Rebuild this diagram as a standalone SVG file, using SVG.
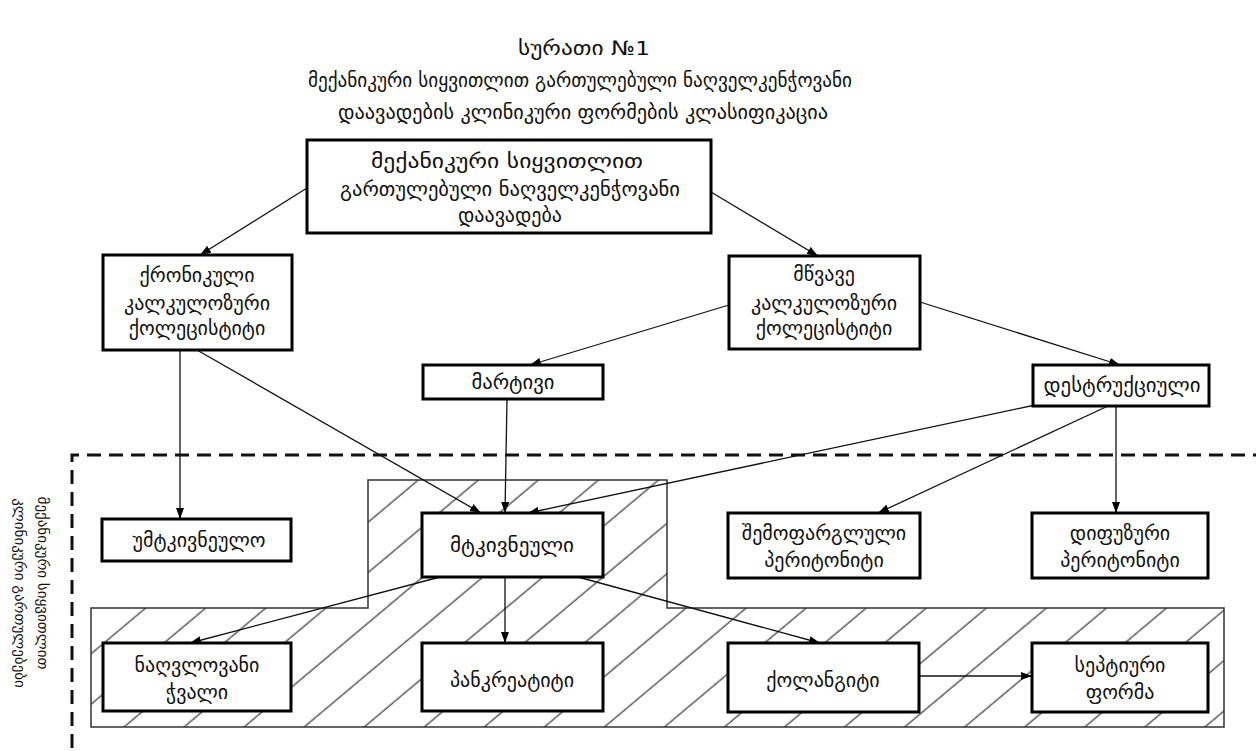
<svg xmlns="http://www.w3.org/2000/svg" width="1256" height="751" viewBox="0 0 1256 751">
  <style>
    .t { font-family: 'DejaVu Sans', 'Noto Sans', sans-serif; font-size: 20px; fill: #111; text-anchor: middle; }
    .title { font-size: 20px; }
    .side { font-size: 15px; }
    .box { fill: #fff; stroke: #000; stroke-width: 3; }
    .conn { fill: none; stroke: #111; stroke-width: 1.3; }
    .zone { fill: url(#hatch); stroke: #333; stroke-width: 1.5; }
    .dash { fill: none; stroke: #111; stroke-width: 3; stroke-dasharray: 14 8; }
  </style>
  <defs>
    <marker id="arr" markerUnits="userSpaceOnUse" markerWidth="11" markerHeight="8" refX="11" refY="4" orient="auto">
      <path d="M0,0 L11,4 L0,8 z" fill="#000"/>
    </marker>
    <pattern id="hatch" patternUnits="userSpaceOnUse" width="12" height="38.6" patternTransform="rotate(-40)">
      <line x1="-1" y1="19" x2="13" y2="19" stroke="#333" stroke-width="1.2"/>
    </pattern>
  </defs>

  <rect width="1256" height="751" fill="#fff"/>

  <!-- heading -->
  <g id="heading">
    <text class="t title" x="584" y="55" textLength="132" lengthAdjust="spacingAndGlyphs">სურათი №1</text>
    <text class="t title" x="580" y="87" textLength="544" lengthAdjust="spacingAndGlyphs">მექანიკური სიყვითლით გართულებული ნაღველკენჭოვანი</text>
    <text class="t title" x="583" y="119" textLength="490" lengthAdjust="spacingAndGlyphs">დაავადების კლინიკური ფორმების კლასიფიკაცია</text>
  </g>

  <!-- complication zone: dashed frame and hatched area -->
  <g id="zone">
    <path class="dash" d="M72,748 V455 H1256"/>
    <path class="zone" d="M91,608 H368 V480 H667 V608 H1224 V727 H91 Z"/>
    <text class="t side" transform="translate(38,583) rotate(90)">მექანიკური სიყვითლით</text>
    <text class="t side" transform="translate(15,593) rotate(90)">კლინიკური გართულებები</text>
  </g>

  <!-- connectors -->
  <g id="connectors">
    <line class="conn" x1="307" y1="188" x2="200" y2="255" marker-end="url(#arr)"/>
    <line class="conn" x1="711" y1="192" x2="818" y2="256" marker-end="url(#arr)"/>
    <line class="conn" x1="180" y1="350" x2="180" y2="519" marker-end="url(#arr)"/>
    <line class="conn" x1="197" y1="350" x2="481" y2="513" marker-end="url(#arr)"/>
    <line class="conn" x1="729" y1="305" x2="530" y2="365" marker-end="url(#arr)"/>
    <line class="conn" x1="920" y1="302" x2="1120" y2="365" marker-end="url(#arr)"/>
    <line class="conn" x1="507" y1="399" x2="505" y2="513" marker-end="url(#arr)"/>
    <line class="conn" x1="1035" y1="405" x2="528" y2="513" marker-end="url(#arr)"/>
    <line class="conn" x1="1108" y1="406" x2="878" y2="513" marker-end="url(#arr)"/>
    <line class="conn" x1="1116" y1="406" x2="1116" y2="513" marker-end="url(#arr)"/>
    <line class="conn" x1="440" y1="577" x2="190" y2="643" marker-end="url(#arr)"/>
    <line class="conn" x1="505" y1="577" x2="505" y2="643" marker-end="url(#arr)"/>
    <line class="conn" x1="578" y1="577" x2="820" y2="643" marker-end="url(#arr)"/>
    <line class="conn" x1="919" y1="676" x2="1032" y2="676" marker-end="url(#arr)"/>
  </g>

  <!-- nodes -->
  <g id="n-main">
    <rect class="box" x="307" y="140" width="404" height="93"/>
    <text class="t" x="507" y="168" textLength="272" lengthAdjust="spacingAndGlyphs">მექანიკური სიყვითლით</text>
    <text class="t" x="510" y="196" textLength="340" lengthAdjust="spacingAndGlyphs">გართულებული ნაღველკენჭოვანი</text>
    <text class="t" x="510" y="222" textLength="104" lengthAdjust="spacingAndGlyphs">დაავადება</text>
  </g>
  <g id="n-chronic">
    <rect class="box" x="103" y="255" width="189" height="95"/>
    <text class="t" x="197" y="282">ქრონიკული</text>
    <text class="t" x="197" y="310">კალკულოზური</text>
    <text class="t" x="197" y="335">ქოლეცისტიტი</text>
  </g>
  <g id="n-acute">
    <rect class="box" x="729" y="256" width="191" height="93"/>
    <text class="t" x="824" y="281">მწვავე</text>
    <text class="t" x="824" y="310">კალკულოზური</text>
    <text class="t" x="824" y="335">ქოლეცისტიტი</text>
  </g>
  <g id="n-simple">
    <rect class="box" x="423" y="365" width="180" height="34"/>
    <text class="t" x="513" y="389" textLength="83" lengthAdjust="spacingAndGlyphs">მარტივი</text>
  </g>
  <g id="n-destructive">
    <rect class="box" x="1033" y="365" width="176" height="41"/>
    <text class="t" x="1122" y="392" textLength="157" lengthAdjust="spacingAndGlyphs">დესტრუქციული</text>
  </g>
  <g id="n-painless">
    <rect class="box" x="102" y="519" width="189" height="42"/>
    <text class="t" x="199" y="547">უმტკივნეულო</text>
  </g>
  <g id="n-painful">
    <rect class="box" x="422" y="513" width="181" height="64"/>
    <text class="t" x="512" y="552" textLength="124" lengthAdjust="spacingAndGlyphs">მტკივნეული</text>
  </g>
  <g id="n-local-peritonitis">
    <rect class="box" x="728" y="513" width="192" height="65"/>
    <text class="t" x="824" y="540">შემოფარგლული</text>
    <text class="t" x="824" y="567">პერიტონიტი</text>
  </g>
  <g id="n-diffuse-peritonitis">
    <rect class="box" x="1032" y="513" width="176" height="65"/>
    <text class="t" x="1120" y="540">დიფუზური</text>
    <text class="t" x="1120" y="567">პერიტონიტი</text>
  </g>
  <g id="n-fistula">
    <rect class="box" x="103" y="643" width="188" height="68"/>
    <text class="t" x="197" y="672">ნაღვლოვანი</text>
    <text class="t" x="197" y="699">ჭვალი</text>
  </g>
  <g id="n-pancreatitis">
    <rect class="box" x="422" y="643" width="181" height="68"/>
    <text class="t" x="512" y="687">პანკრეატიტი</text>
  </g>
  <g id="n-cholangitis">
    <rect class="box" x="728" y="643" width="191" height="69"/>
    <text class="t" x="823" y="687">ქოლანგიტი</text>
  </g>
  <g id="n-septic">
    <rect class="box" x="1032" y="643" width="176" height="69"/>
    <text class="t" x="1120" y="672">სეპტიური</text>
    <text class="t" x="1120" y="699">ფორმა</text>
  </g>
</svg>
